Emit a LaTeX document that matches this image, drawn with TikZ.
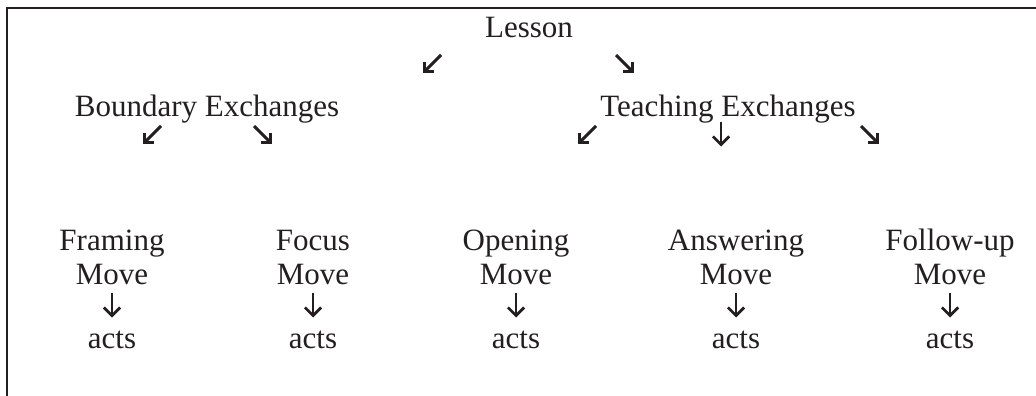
\documentclass[tikz,border=0pt]{standalone}
\usepackage{fontspec}
\setmainfont{Liberation Serif}
\usetikzlibrary{arrows.meta}
\definecolor{inkgray}{HTML}{231F20}

\begin{document}
\begin{tikzpicture}[x=1pt,y=-1pt,
    lbl/.style={inkgray, font=\fontsize{31}{34}\selectfont, anchor=base, align=center, inner sep=0pt},
    dgbox/.style={minimum size=18pt, inner sep=0pt, outer sep=0pt},
    dnbox/.style={minimum width=22pt, minimum height=25pt, inner sep=0pt, outer sep=0pt},
    arr/.style={inkgray, line width=3pt, -{Straight Barb[angle=90:9.5pt]}},
    dnarr/.style={inkgray, line width=2.8pt, -{Straight Barb[angle=90:11.5pt]}}]
  \useasboundingbox (0,0) rectangle (1036,396);
  \draw[inkgray, line width=2pt] (7,396) -- (7,7.7) -- (1036,7.7);

  % top level
  \node[lbl] (lesson) at (529,38) {Lesson};
  \node[dgbox] (lesL) at (432,64) {};
  \node[dgbox] (lesR) at (625,64) {};
  \draw[arr] (lesL.north east) -- (lesL.south west);
  \draw[arr] (lesR.north west) -- (lesR.south east);

  % exchanges
  \node[lbl] (bound) at (207,116) {Boundary Exchanges};
  \node[lbl] (teach) at (728,116) {Teaching Exchanges};
  \node[dgbox] (bndL) at (152,135) {};
  \node[dgbox] (bndR) at (263,135) {};
  \node[dgbox] (tchL) at (587,135) {};
  \node[dnbox] (tchM) at (721,134) {};
  \node[dgbox] (tchR) at (870,135) {};
  \draw[arr] (bndL.north east) -- (bndL.south west);
  \draw[arr] (bndR.north west) -- (bndR.south east);
  \draw[arr] (tchL.north east) -- (tchL.south west);
  \draw[dnarr] (tchM.north) -- (tchM.south);
  \draw[arr] (tchR.north west) -- (tchR.south east);

  % moves and acts
  \foreach \name/\x/\txt in {fram/112/Framing, focus/313/Focus, open/516/Opening,
      answ/736/Answering, follow/950/Follow-up} {
    \node[lbl] (\name) at (\x,284) {\txt\\Move};
    \node[dnbox] (\name arr) at (\x,305) {};
    \draw[dnarr] (\name arr.north) -- (\name arr.south);
    \node[lbl] (\name acts) at (\x,348) {acts};
  }
\end{tikzpicture}
\end{document}
